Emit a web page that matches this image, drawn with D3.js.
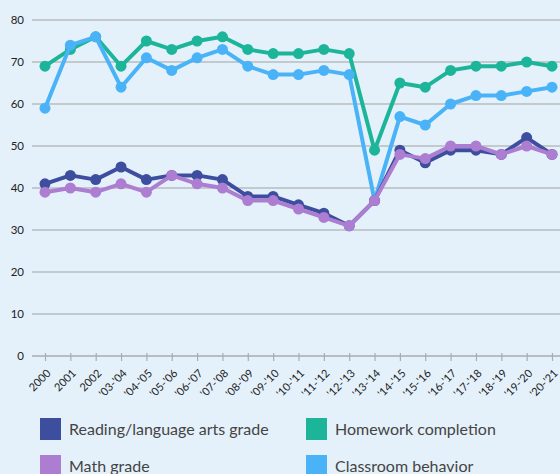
<!DOCTYPE html>
<html>
<head>
<meta charset="utf-8">
<script src="https://cdn.jsdelivr.net/npm/d3@7"></script>
<style>
  body { margin: 0; background: #e4f1fb; }
  svg { display: block; }
</style>
</head>
<body>
<div id="chart"></div>
<script>
const categories = ["2000", "2001", "2002", "'03-'04", "'04-'05", "'05-'06", "'06-'07", "'07-'08",
    "'08-'09", "'09-'10", "'10-'11", "'11-'12", "'12-'13", "'13-'14", "'14-'15", "'15-'16",
    "'16-'17", "'17-'18", "'18-'19", "'19-'20", "'20-'21"]

const reading = [41, 43, 42, 45, 42, 43, 43, 42, 38, 38, 36, 34, 31, 37, 49, 46, 49, 49, 48, 52, 48]
const math = [39, 40, 39, 41, 39, 43, 41, 40, 37, 37, 35, 33, 31, 37, 48, 47, 50, 50, 48, 50, 48]
const homework = [69, 73, 76, 69, 75, 73, 75, 76, 73, 72, 72, 73, 72, 49, 65, 64, 68, 69, 69, 70, 69]
const behavior = [59, 74, 76, 64, 71, 68, 71, 73, 69, 67, 67, 68, 67, 37, 57, 55, 60, 62, 62, 63, 64]

const yTicks = [0, 10, 20, 30, 40, 50, 60, 70, 80]

const series = [
    { name: "Homework completion", values: homework, color: "#1db59a" },
    { name: "Classroom behavior", values: behavior, color: "#4ab3f7" },
    { name: "Reading/language arts grade", values: reading, color: "#3e4e9f" },
    { name: "Math grade", values: math, color: "#ac7dd1" }
]
const legendOrder = [
    { name: "Reading/language arts grade", color: "#3e4e9f" },
    { name: "Homework completion", color: "#1db59a" },
    { name: "Math grade", color: "#ac7dd1" },
    { name: "Classroom behavior", color: "#4ab3f7" }
]

const width = 560
const height = 474

const svg = d3.select("#chart")
    .append("svg")
        .attr("width", width)
        .attr("height", height)

svg.append("rect")
    .attr("width", width)
    .attr("height", height)
    .attr("fill", "#e4f1fb")

const xScale = d3.scalePoint()
    .domain(categories)
    .range([45, 552])

const yScale = d3.scaleLinear()
    .domain([0, 80])
    .range([356, 20])

// grid lines
const grid = svg.append("g")
grid.selectAll("line")
    .data(yTicks)
    .join("line")
        .attr("x1", 32)
        .attr("x2", width)
        .attr("y1", d => yScale(d))
        .attr("y2", d => yScale(d))
        .attr("stroke", d => d == 0 ? "#a9adb0" : "#b9bcbf")
        .attr("stroke-width", 1.5)

// y labels
const yAxis = svg.append("g")
    .attr("transform", "translate(24,0)")
    .call(d3.axisLeft(yScale).tickValues(yTicks).tickSize(0).tickPadding(0))
yAxis.select(".domain").remove()
yAxis.selectAll("text")
    .attr("fill", "#222")
    .style("font-family", "Lato, sans-serif")
    .style("font-size", "11.5px")

// x axis
const xAxis = svg.append("g")
    .attr("transform", `translate(0,${yScale(0)})`)
    .call(d3.axisBottom(xScale).tickSize(5).tickSizeOuter(0))
xAxis.select(".domain").remove()
xAxis.selectAll(".tick line")
    .attr("y1", -3)
    .attr("stroke", "#a9adb0")
    .attr("stroke-width", 1.2)
xAxis.selectAll("text")
    .attr("fill", "#222")
    .style("font-family", "Lato, sans-serif")
    .style("font-size", "11px")
    .attr("text-anchor", "end")
    .attr("dy", 0)
    .attr("y", 0)
    .attr("transform", "translate(6,18) rotate(-45)")

// lines
const lineGenerator = d3.line()
    .x((d, i) => xScale(categories[i]))
    .y(d => yScale(d))

const lines = svg.append("g")
series.forEach(s => {
    const g = lines.append("g")
    g.append("path")
        .attr("d", lineGenerator(s.values))
        .attr("fill", "none")
        .attr("stroke", s.color)
        .attr("stroke-width", 4)
        .attr("stroke-linejoin", "round")
    g.selectAll("circle")
        .data(s.values)
        .join("circle")
            .attr("cx", (d, i) => xScale(categories[i]))
            .attr("cy", d => yScale(d))
            .attr("r", 5.5)
            .attr("fill", s.color)
})

// legend
const legend = svg.append("g")
legendOrder.forEach((item, i) => {
    const col = i % 2
    const row = Math.floor(i / 2)
    const g = legend.append("g")
        .attr("transform", `translate(${40 + col * 266},${418 + row * 37})`)
    g.append("rect")
        .attr("width", 21)
        .attr("height", 22)
        .attr("fill", item.color)
    g.append("text")
        .attr("x", 29)
        .attr("y", 17)
        .attr("fill", "#444")
        .style("font-family", "Lato, sans-serif")
        .style("font-size", "16px")
        .text(item.name)
})
</script>
</body>
</html>
